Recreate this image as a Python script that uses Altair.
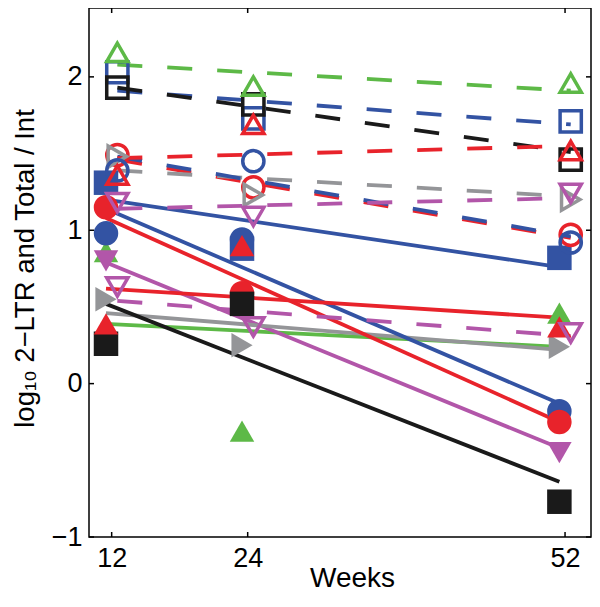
import altair as alt
import pandas as pd

WEEKS = [12, 24, 52]
X_TICKS = [12, 24, 52]
Y_TICKS = [-1, 0, 1, 2]

# ---- filled markers (2-LTR), solid fitted lines ----
F_SERIES = ["g_up", "b_sq", "m_down", "k_right", "b_circ", "r_circ", "k_sq", "r_up"]
F_COLOR = ["green", "blue", "magenta", "gray", "blue", "red", "black", "red"]
F_MARKER = ["up", "square", "down", "right", "circle", "circle", "square", "up"]
F_W12 = [0.86, 1.31, 0.80, 0.55, 0.98, 1.15, 0.26, 0.39]
F_W24 = [-0.31, 0.88, 0.50, 0.25, 0.94, 0.59, 0.52, 0.90]
F_W52 = [0.46, 0.82, -0.45, 0.24, -0.18, -0.25, -0.77, 0.37]
F_FIT12 = [0.39, 1.20, 0.79, 0.46, 1.14, 1.08, 0.52, 0.62]
F_FIT52 = [0.24, 0.76, -0.42, 0.22, -0.13, -0.25, -0.64, 0.43]

# ---- open markers (Total / Int), dashed fitted lines ----
O_SERIES = ["b_sq", "k_sq", "g_up", "r_circ", "k_right", "b_circ", "r_up", "m_down1", "m_down2"]
O_COLOR = ["blue", "black", "green", "red", "gray", "blue", "red", "magenta", "magenta"]
O_MARKER = ["square", "square", "up", "circle", "right", "circle", "up", "down", "down"]
O_W12 = [2.03, 1.93, 2.16, 1.49, 1.48, 1.39, 1.36, 1.18, 0.63]
O_W24 = [1.73, 1.82, 1.94, 1.28, 1.23, 1.45, 1.69, 1.09, 0.37]
O_W52 = [1.71, 1.46, 1.96, 0.97, 1.20, 0.92, 1.52, 1.24, 0.33]
O_FIT12 = [1.91, 1.93, 2.08, 1.46, 1.39, 1.48, 1.47, 1.14, 0.54]
O_FIT52 = [1.69, 1.51, 1.91, 0.95, 1.22, 0.96, 1.55, 1.21, 0.31]

COLOR_DOMAIN = ["green", "blue", "black", "red", "gray", "magenta"]
COLOR_RANGE = ["#5DB947", "#3353A3", "#1A1A1A", "#E8232B", "#949598", "#B256A9"]
MARKER_DOMAIN = ["up", "down", "right", "square", "circle"]
SHAPE_RANGE = ["triangle-up", "triangle-down", "triangle-right", "square", "circle"]
FILLED_SIZE = [600, 600, 600, 285, 450]
OPEN_SIZE = [450, 450, 400, 210, 275]


def markers(series, colors, marks, w12, w24, w52):
    rows = []
    for i, s in enumerate(series):
        for wk, vals in zip(WEEKS, (w12, w24, w52)):
            rows.append({"series": s, "color": colors[i], "marker": marks[i],
                         "week": wk, "value": vals[i], "order": i})
    return pd.DataFrame(rows)


def fits(series, colors, a, b):
    return pd.DataFrame({"series": series, "color": colors,
                         "w1": WEEKS[0], "w2": WEEKS[-1], "y1": a, "y2": b})


filled_df = markers(F_SERIES, F_COLOR, F_MARKER, F_W12, F_W24, F_W52)
open_df = markers(O_SERIES, O_COLOR, O_MARKER, O_W12, O_W24, O_W52)
fit_f = fits(F_SERIES, F_COLOR, F_FIT12, F_FIT52)
fit_o = fits(O_SERIES, O_COLOR, O_FIT12, O_FIT52)

W, H = 502, 529
xscale = alt.Scale(domain=[10, 54.29], nice=False, zero=False)
yscale = alt.Scale(domain=[-1, 2.449], nice=False, zero=False)
color_enc = alt.Color("color:N", scale=alt.Scale(domain=COLOR_DOMAIN, range=COLOR_RANGE), legend=None)
FONT = "Liberation Sans"

x_axis = alt.Axis(values=X_TICKS, title="Weeks", ticks=False, domain=False, grid=False,
                  labelFontSize=27, labelPadding=8, labelColor="black", labelFont=FONT,
                  titleFont=FONT, titleFontSize=28, titleFontWeight="normal", titleColor="black",
                  titleX=263, titleY=49, titleBaseline="alphabetic", titleAlign="center")
y_axis = alt.Axis(values=Y_TICKS, title="log\u2081\u2080 2\u2212LTR and Total / Int", ticks=False,
                  domain=False, grid=False, format="d",
                  labelFontSize=27, labelPadding=7, labelColor="black", labelFont=FONT,
                  titleFont=FONT, titleFontSize=27.5, titleFontWeight="normal", titleColor="black",
                  titleAngle=270, titleX=-56, titleY=260, titleBaseline="alphabetic",
                  titleAlign="center")

solid = alt.Chart(fit_f).transform_calculate(
    x1="datum.w1 - 0.5", x2="datum.w2 - 0.5"
).mark_rule(strokeWidth=3.8, strokeCap="butt").encode(
    x=alt.X("x1:Q", scale=xscale, axis=x_axis),
    x2="x2:Q",
    y=alt.Y("y1:Q", scale=yscale, axis=y_axis),
    y2="y2:Q",
    color=color_enc,
)

dashed = alt.Chart(fit_o).transform_calculate(
    x1="datum.w1 + 0.5", x2="datum.w2 + 0.5"
).mark_rule(strokeWidth=3.8, strokeDash=[25, 25], strokeCap="butt").encode(
    x=alt.X("x1:Q", scale=xscale),
    x2="x2:Q",
    y=alt.Y("y1:Q", scale=yscale),
    y2="y2:Q",
    color=color_enc,
)

filled_pts = alt.Chart(filled_df).transform_calculate(
    xp="datum.week - 0.5"
).mark_point(filled=True, opacity=1, strokeWidth=0).encode(
    x=alt.X("xp:Q", scale=xscale),
    y=alt.Y("value:Q", scale=yscale),
    color=color_enc,
    shape=alt.Shape("marker:N", scale=alt.Scale(domain=MARKER_DOMAIN, range=SHAPE_RANGE), legend=None),
    size=alt.Size("marker:N", scale=alt.Scale(domain=MARKER_DOMAIN, range=FILLED_SIZE), legend=None),
    order=alt.Order("order:Q"),
)

open_pts = alt.Chart(open_df).transform_calculate(
    xp="datum.week + 0.5"
).mark_point(filled=False, opacity=1, strokeWidth=3.5).encode(
    x=alt.X("xp:Q", scale=xscale),
    y=alt.Y("value:Q", scale=yscale),
    color=color_enc,
    shape=alt.Shape("marker:N", scale=alt.Scale(domain=MARKER_DOMAIN, range=SHAPE_RANGE), legend=None),
    size=alt.Size("marker:N", scale=alt.Scale(domain=MARKER_DOMAIN, range=OPEN_SIZE), legend=None),
    order=alt.Order("order:Q"),
)

xt = pd.DataFrame({"t": X_TICKS})
yt = pd.DataFrame({"t": Y_TICKS})
tick_style = dict(color="black", strokeWidth=1.5)
xtick_b = alt.Chart(xt).mark_rule(**tick_style).encode(
    x=alt.X("t:Q", scale=xscale), y=alt.value(H), y2=alt.value(H - 5))
xtick_t = alt.Chart(xt).mark_rule(**tick_style).encode(
    x=alt.X("t:Q", scale=xscale), y=alt.value(0), y2=alt.value(5))
ytick_l = alt.Chart(yt).mark_rule(**tick_style).encode(
    y=alt.Y("t:Q", scale=yscale), x=alt.value(0), x2=alt.value(5))
ytick_r = alt.Chart(yt).mark_rule(**tick_style).encode(
    y=alt.Y("t:Q", scale=yscale), x=alt.value(W), x2=alt.value(W - 5))

chart = alt.layer(
    solid, dashed, filled_pts, open_pts, xtick_b, xtick_t, ytick_l, ytick_r
).resolve_scale(
    color="shared", shape="independent", size="independent"
).properties(
    width=W, height=H,
    autosize=alt.AutoSizeParams(type="none"),
    padding={"left": 81, "top": 0, "right": 1, "bottom": 56},
    background="white",
).configure_view(stroke="black", strokeWidth=1.5)

chart.save("out.html", embed_options={"renderer": "svg", "actions": False})
